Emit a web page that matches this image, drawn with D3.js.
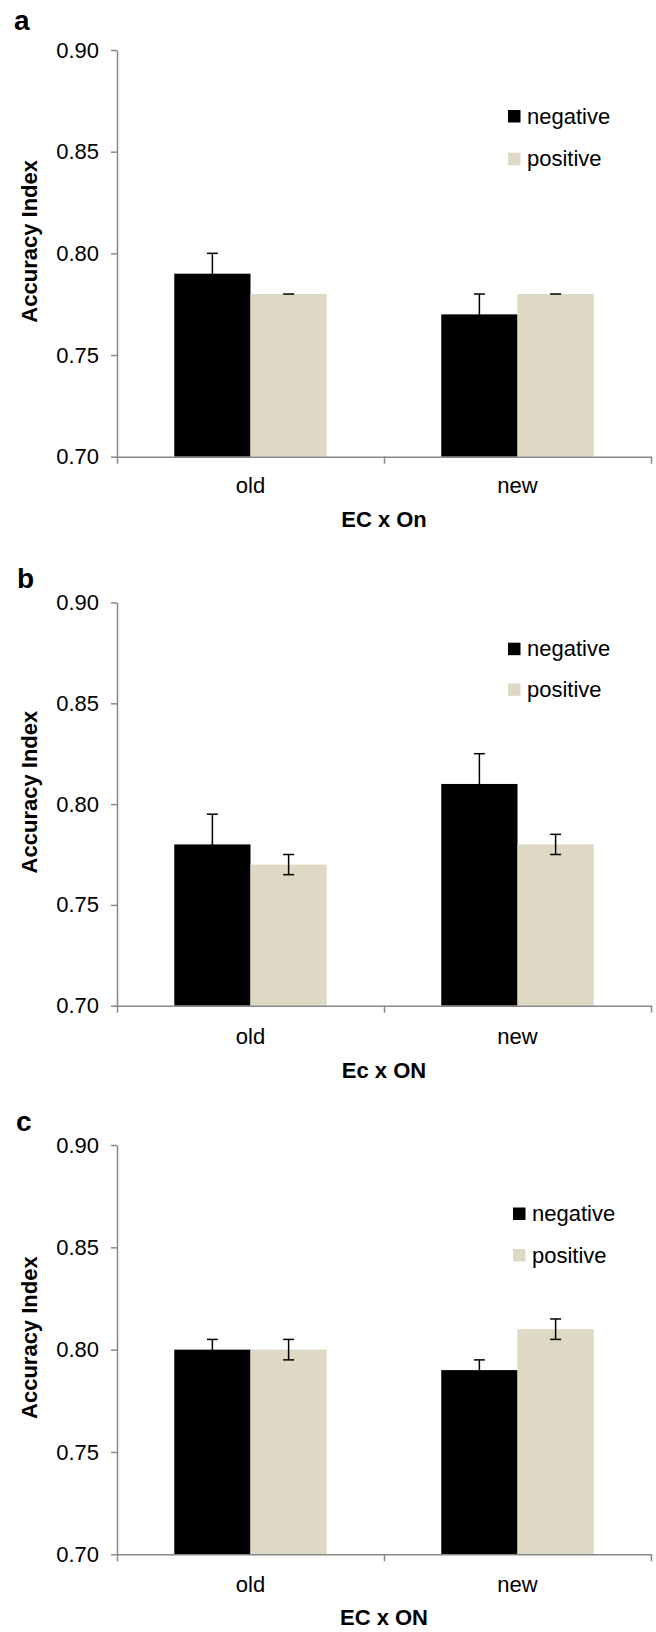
<!DOCTYPE html>
<html>
<head>
<meta charset="utf-8">
<script src="https://cdn.jsdelivr.net/npm/d3@7"></script>
<style>
  body { margin: 0; background: #fff; }
  svg { display: block; font-family: "Liberation Sans", Arial, sans-serif; }
</style>
</head>
<body>
<svg width="656" height="1632"></svg>
<script>
// data
const categories = ['old', 'new'];
const seriesNames = ['negative', 'positive'];
const yTicks = [0.70, 0.75, 0.80, 0.85, 0.90];

const aNegative = [0.79, 0.77];
const aPositive = [0.78, 0.78];
const aNegErr = [0.01, 0.01];
const aPosErr = [0, 0];

const bNegative = [0.78, 0.81];
const bPositive = [0.77, 0.78];
const bNegErr = [0.015, 0.015];
const bPosErr = [0.005, 0.005];

const cNegative = [0.80, 0.79];
const cPositive = [0.80, 0.81];
const cNegErr = [0.005, 0.005];
const cPosErr = [0.005, 0.005];

const panelLetters = ['a', 'b', 'c'];
const xTitles = ['EC x On', 'Ec x ON', 'EC x ON'];

const colors = { negative: '#000000', positive: '#ddd9c4' };
const axisColor = '#888';

// layout of each panel (pixels)
const panels = [
  { letter: panelLetters[0], title: xTitles[0], neg: aNegative, pos: aPositive, negErr: aNegErr, posErr: aPosErr,
    top: 50, bottom: 456.7, labelY: 30, labelX: 14, legendY: 110, legendX: 508, legendGap: 42.7, catY: 493, titleY: 527 },
  { letter: panelLetters[1], title: xTitles[1], neg: bNegative, pos: bPositive, negErr: bNegErr, posErr: bPosErr,
    top: 602.5, bottom: 1005.7, labelY: 588, labelX: 17, legendY: 642.7, legendX: 508, legendGap: 40.6, catY: 1044, titleY: 1078 },
  { letter: panelLetters[2], title: xTitles[2], neg: cNegative, pos: cPositive, negErr: cNegErr, posErr: cPosErr,
    top: 1145, bottom: 1554.3, labelY: 1131, labelX: 16, legendY: 1207.5, legendX: 513, legendGap: 41.5, catY: 1591.5, titleY: 1625 }
];

const left = 117, right = 651;
const svg = d3.select('svg');

panels.forEach(p => {
  const g = svg.append('g');

  const y = d3.scaleLinear().domain([0.70, 0.90]).range([p.bottom, p.top]);
  const x = d3.scaleBand().domain(categories).range([left, right]);
  const groupW = x.bandwidth() * 0.571;
  const xs = d3.scaleBand().domain(seriesNames).range([0, groupW]);

  // y axis
  const yAxis = g.append('g')
    .attr('transform', `translate(${left},0)`)
    .call(d3.axisLeft(y).tickValues(yTicks).tickFormat(d3.format('.2f')).tickSize(6).tickSizeOuter(0).tickPadding(12));
  yAxis.select('.domain').attr('stroke', axisColor).attr('stroke-width', 1.5);
  yAxis.selectAll('.tick line').attr('stroke', axisColor).attr('stroke-width', 1.5);
  yAxis.selectAll('.tick text').attr('font-size', 22).attr('fill', '#000').attr('font-family', '"Liberation Sans", Arial, sans-serif');

  // bars
  const rows = categories.map((c, i) => ({
    cat: c,
    items: [
      { s: 'negative', v: p.neg[i], e: p.negErr[i] },
      { s: 'positive', v: p.pos[i], e: p.posErr[i] }
    ]
  }));

  const groups = g.selectAll('.grp').data(rows).enter().append('g')
    .attr('transform', d => `translate(${x(d.cat) + (x.bandwidth() - groupW) / 2},0)`);

  groups.selectAll('rect').data(d => d.items).enter().append('rect')
    .attr('x', d => xs(d.s))
    .attr('width', xs.bandwidth())
    .attr('y', d => y(d.v))
    .attr('height', d => y(0.70) - y(d.v))
    .attr('fill', d => colors[d.s]);

  // error bars
  const capW = 11;
  const err = groups.selectAll('.err').data(d => d.items).enter().append('g')
    .attr('stroke', '#000').attr('stroke-width', 1.5);
  err.append('line')
    .attr('x1', d => xs(d.s) + xs.bandwidth() / 2).attr('x2', d => xs(d.s) + xs.bandwidth() / 2)
    .attr('y1', d => y(d.v - d.e)).attr('y2', d => y(d.v + d.e));
  err.append('line')
    .attr('x1', d => xs(d.s) + xs.bandwidth() / 2 - capW / 2).attr('x2', d => xs(d.s) + xs.bandwidth() / 2 + capW / 2)
    .attr('y1', d => y(d.v + d.e)).attr('y2', d => y(d.v + d.e));
  err.filter(d => d.e > 0).append('line')
    .attr('x1', d => xs(d.s) + xs.bandwidth() / 2 - capW / 2).attr('x2', d => xs(d.s) + xs.bandwidth() / 2 + capW / 2)
    .attr('y1', d => y(d.v - d.e)).attr('y2', d => y(d.v - d.e));

  // x axis: boundary ticks plus category labels
  const xb = d3.scaleLinear().domain([0, categories.length]).range([left, right]);
  const xAxis = g.append('g')
    .attr('transform', `translate(0,${p.bottom})`)
    .call(d3.axisBottom(xb).tickValues(d3.range(categories.length + 1)).tickSize(7).tickSizeOuter(0).tickFormat(''));
  xAxis.select('.domain').attr('stroke', axisColor).attr('stroke-width', 1.5);
  xAxis.selectAll('.tick line').attr('stroke', axisColor).attr('stroke-width', 1.5);

  g.selectAll('.cat').data(categories).enter().append('text')
    .attr('x', d => x(d) + x.bandwidth() / 2)
    .attr('y', p.catY)
    .attr('text-anchor', 'middle')
    .attr('font-size', 22)
    .text(d => d);

  // axis titles
  g.append('text')
    .attr('x', (left + right) / 2)
    .attr('y', p.titleY)
    .attr('text-anchor', 'middle')
    .attr('font-size', 22)
    .attr('font-weight', 'bold')
    .text(p.title);

  g.append('text')
    .attr('transform', `translate(37,${(p.top + p.bottom) / 2 - 12}) rotate(-90)`)
    .attr('text-anchor', 'middle')
    .attr('font-size', 22)
    .attr('font-weight', 'bold')
    .text('Accuracy Index');

  // panel letter
  g.append('text')
    .attr('x', p.labelX)
    .attr('y', p.labelY)
    .attr('font-size', 28)
    .attr('font-weight', 'bold')
    .text(p.letter);

  // legend
  const leg = g.selectAll('.leg').data(seriesNames).enter().append('g')
    .attr('transform', (d, i) => `translate(${p.legendX},${p.legendY + i * p.legendGap})`);
  leg.append('rect').attr('width', 12.5).attr('height', 12.5).attr('fill', d => colors[d]);
  leg.append('text').attr('x', 19).attr('y', 13.5).attr('font-size', 22).text(d => d);
});
</script>
</body>
</html>
